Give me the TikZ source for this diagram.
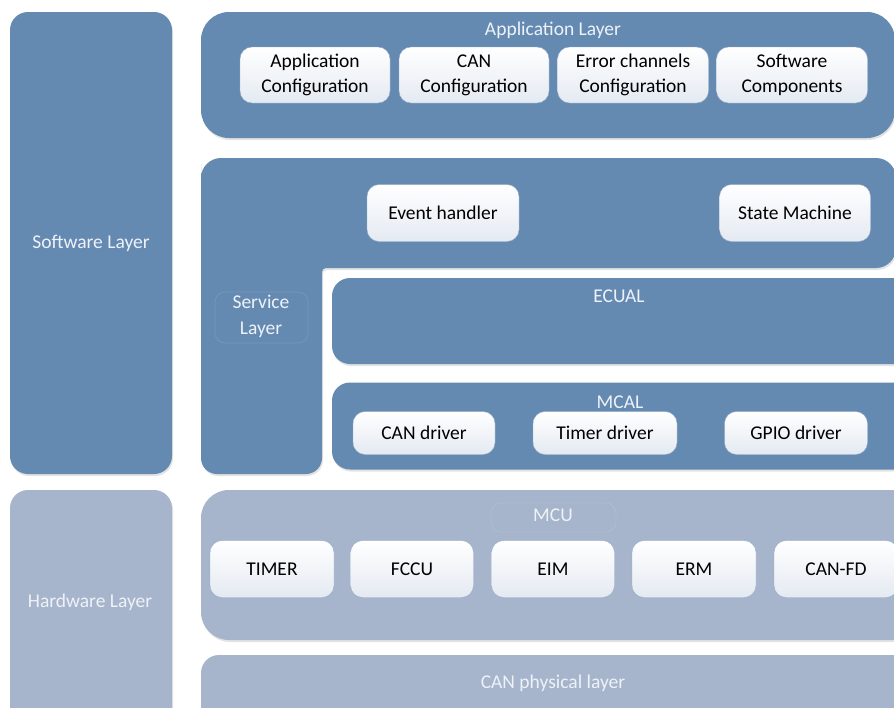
\documentclass[tikz,border=0pt]{standalone}
\usepackage{fontspec}
\setmainfont{Carlito}
\usetikzlibrary{shadows}
\definecolor{swblue}{RGB}{101,138,178}
\definecolor{hwblue}{RGB}{166,181,204}
\definecolor{boxbot}{RGB}{228,234,242}
\definecolor{boxedge}{RGB}{150,170,198}
\definecolor{lbl}{RGB}{238,242,248}
\tikzset{
  shade/.style={drop shadow={shadow xshift=1pt, shadow yshift=-2pt, opacity=0.18, fill=black!60}},
  swlayer/.style={rectangle, rounded corners=18pt, fill=swblue, shade, inner sep=0pt},
  hwlayer/.style={rectangle, rounded corners=18pt, fill=hwblue, shade, inner sep=0pt},
  compbox/.style={rectangle, rounded corners=12pt, top color=white, bottom color=boxbot,
    draw=boxedge, line width=0.4pt, align=center, text=black, inner sep=0pt,
    font=\fontsize{19.5}{25}\selectfont},
  layertext/.style={text=lbl, align=center, font=\fontsize{19.5}{26}\selectfont},
  faint/.style={draw=white, draw opacity=0.1, line width=0.8pt, rounded corners=10pt}
}
\begin{document}
\begin{tikzpicture}[x=1pt, y=-1pt]
\useasboundingbox (0,0) rectangle (894,707);
\clip (0,0) rectangle (894,707);
\fill[white] (0,0) rectangle (894,707);

% left column: software / hardware
\node[swlayer, minimum width=162pt, minimum height=462pt] (sw) at (91,243) {};
\node[layertext] (swl) at (sw.center) {Software Layer};
\node[hwlayer, minimum width=162pt, minimum height=240pt] (hw) at (91,610) {};
\node[layertext] (hwl) at (90,602) {Hardware Layer};

% application layer
\node[swlayer, rounded corners=28pt, minimum width=694pt, minimum height=126pt] (app) at (548,75) {};
\node[layertext] (appl) at (553,30) {Application Layer};
\node[compbox, minimum width=150pt, minimum height=56pt] (appcfg) at (315,75) {Application\\Configuration};
\node[compbox, minimum width=150pt, minimum height=56pt] (cancfg) at (474,75) {CAN\\Configuration};
\node[compbox, minimum width=151pt, minimum height=56pt] (errcfg) at (633,75) {Error channels\\Configuration};
\node[compbox, minimum width=151pt, minimum height=56pt] (swc) at (792,75) {Software\\Components};

% service layer (L-shaped)
\path[fill=swblue, shade]
  (201,180) [rounded corners=20pt] -- (201,158) -- (896,158) -- (896,268)
  [rounded corners=4pt] -- (322,268)
  [rounded corners=16pt] -- (322,474) -- (201,474) -- (201,180) -- cycle;
\node[layertext] (svcl) at (261,316) {Service\\Layer};
\draw[faint] (215,292) rectangle (308,343);
\node[compbox, minimum width=152pt, minimum height=57pt] (evt) at (443,213) {Event handler};
\node[compbox, minimum width=151pt, minimum height=57pt] (fsm) at (795,213) {State Machine};

% ECUAL
\node[swlayer, minimum width=590pt, minimum height=86pt] (ecual) at (627,321) {};
\node[layertext] (ecuall) at (619,296) {ECUAL};

% MCAL
\node[swlayer, minimum width=590pt, minimum height=87pt] (mcal) at (627,426) {};
\node[layertext] (mcall) at (620,402) {MCAL};
\node[compbox, minimum width=142pt, minimum height=43pt] (candrv) at (424,433) {CAN driver};
\node[compbox, minimum width=144pt, minimum height=43pt] (tmrdrv) at (605,433) {Timer driver};
\node[compbox, minimum width=143pt, minimum height=43pt] (gpiodrv) at (796,433) {GPIO driver};

% MCU
\node[hwlayer, rounded corners=28pt, minimum width=720pt, minimum height=150pt] (mcu) at (561,565) {};
\draw[faint] (491,503) rectangle (616,532);
\node[layertext] (mcul) at (553,515) {MCU};
\node[compbox, minimum width=124pt, minimum height=57pt] (timer) at (272,569) {TIMER};
\node[compbox, minimum width=123pt, minimum height=57pt] (fccu) at (412,569) {FCCU};
\node[compbox, minimum width=123pt, minimum height=57pt] (eim) at (553,569) {EIM};
\node[compbox, minimum width=124pt, minimum height=57pt] (erm) at (694,569) {ERM};
\node[compbox, minimum width=124pt, minimum height=57pt] (canfd) at (836,569) {CAN-FD};

% CAN physical layer
\node[hwlayer, minimum width=720pt, minimum height=90pt] (phy) at (561,700) {};
\node[layertext] (phyl) at (553,683) {CAN physical layer};
\end{tikzpicture}
\end{document}
